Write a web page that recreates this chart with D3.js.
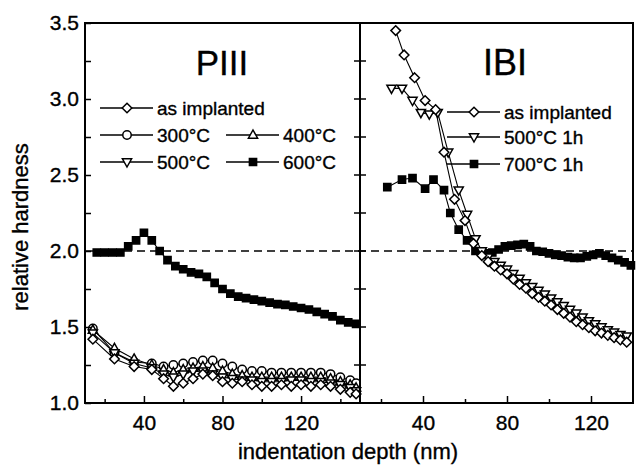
<!DOCTYPE html>
<meta charset="utf-8">
<style>
body { margin: 0; background: white; }
text { font-family: "Liberation Sans", Arial, sans-serif; fill: black; stroke: black; stroke-width: 0.35px; }
.frame { fill: none; stroke: black; stroke-width: 2px; }
.axis path { display: none; }
.axis line { stroke: black; stroke-width: 1.5px; }
.axis text { font-size: 21px; }
.series { fill: none; stroke: black; stroke-width: 1.1px; }
</style>
<body>
<script src="https://d3js.org/d3.v7.min.js"></script>
<script>

// PIII panel, low series share one set of depths (nm)
var piiiDepth = [14, 25, 35, 44, 50, 55, 60, 65, 70, 75, 80, 85, 90, 95, 100, 105, 110, 115, 120, 125, 130, 135, 140, 145, 148];
var piiiAsImpl = [1.42, 1.29, 1.24, 1.22, 1.16, 1.11, 1.13, 1.16, 1.19, 1.18, 1.14, 1.13, 1.14, 1.12, 1.11, 1.11, 1.12, 1.11, 1.12, 1.11, 1.12, 1.11, 1.09, 1.07, 1.06];
var piii300 = [1.49, 1.33, 1.27, 1.26, 1.24, 1.25, 1.26, 1.27, 1.28, 1.28, 1.26, 1.24, 1.22, 1.21, 1.21, 1.20, 1.20, 1.20, 1.20, 1.20, 1.20, 1.19, 1.17, 1.15, 1.13];
var piii400 = [1.48, 1.36, 1.29, 1.25, 1.22, 1.20, 1.22, 1.23, 1.24, 1.23, 1.21, 1.19, 1.18, 1.17, 1.17, 1.17, 1.17, 1.17, 1.17, 1.17, 1.17, 1.16, 1.14, 1.12, 1.10];
var piii500 = [1.46, 1.33, 1.26, 1.23, 1.19, 1.17, 1.19, 1.21, 1.21, 1.19, 1.17, 1.16, 1.15, 1.15, 1.14, 1.14, 1.14, 1.15, 1.15, 1.14, 1.14, 1.13, 1.12, 1.10, 1.08];
var piii600Depth = [16, 20, 24, 28, 32, 36, 40, 44, 48, 52, 56, 60, 64, 68, 72, 76, 80, 84, 88, 92, 96, 100, 104, 108, 112, 116, 120, 124, 128, 132, 136, 140, 144, 148];
var piii600 = [1.99, 1.99, 1.99, 1.99, 2.03, 2.07, 2.12, 2.07, 2.00, 1.94, 1.90, 1.88, 1.86, 1.85, 1.83, 1.79, 1.75, 1.72, 1.70, 1.69, 1.68, 1.67, 1.66, 1.65, 1.645, 1.635, 1.625, 1.615, 1.60, 1.585, 1.57, 1.545, 1.53, 1.52];

// IBI panel
var ibiAsImplDepth = [27, 31, 36, 41, 46, 50, 55, 60, 64, 68, 71, 74, 77, 80, 83, 86, 89, 92, 95, 98, 101, 104, 107, 110, 113, 116, 119, 122, 125, 128, 131, 134, 137];
var ibiAsImpl = [3.45, 3.29, 3.14, 2.99, 2.93, 2.65, 2.34, 2.20, 2.05, 1.97, 1.93, 1.90, 1.875, 1.85, 1.815, 1.78, 1.755, 1.72, 1.695, 1.67, 1.645, 1.615, 1.59, 1.565, 1.535, 1.515, 1.495, 1.475, 1.46, 1.445, 1.43, 1.415, 1.40];
var ibi500Depth = [25, 30, 35, 39, 43, 47, 52, 57, 61, 65, 68, 71, 74, 77, 80, 83, 86, 89, 92, 95, 98, 101, 104, 107, 110, 113, 116, 119, 122, 125, 128, 131, 134, 137];
var ibi500 = [3.07, 3.07, 2.99, 2.91, 2.90, 2.91, 2.65, 2.40, 2.24, 2.08, 2.00, 1.96, 1.93, 1.905, 1.88, 1.85, 1.82, 1.79, 1.765, 1.74, 1.715, 1.69, 1.665, 1.64, 1.615, 1.59, 1.565, 1.54, 1.52, 1.50, 1.48, 1.465, 1.45, 1.44];
var ibi700Depth = [23, 30, 35, 41, 45, 50, 53, 57, 61, 65, 70, 73, 76, 79, 82, 85, 88, 91, 94, 97, 100, 103, 106, 109, 112, 115, 118, 121, 124, 127, 130, 133, 136, 139];
var ibi700 = [2.42, 2.47, 2.48, 2.41, 2.47, 2.40, 2.25, 2.14, 2.07, 2.00, 1.985, 1.99, 2.01, 2.03, 2.035, 2.04, 2.045, 2.03, 2.00, 1.995, 1.985, 1.975, 1.97, 1.96, 1.955, 1.955, 1.965, 1.975, 1.985, 1.97, 1.955, 1.94, 1.925, 1.905];

var yTicks = [1.0, 1.5, 2.0, 2.5, 3.0, 3.5];
var yMinor = [1.25, 1.75, 2.25, 2.75, 3.25];
var xTicks = [40, 80, 120];
var xMinor = [20, 60, 100, 140];
var piiiLegend = ["as implanted", "300°C", "400°C", "500°C", "600°C"];
var ibiLegend = ["as implanted", "500°C 1h", "700°C 1h"];

var width = 637,
    height = 467;

var xL = d3.scaleLinear().domain([10, 150]).range([85, 360]);
var xR = d3.scaleLinear().domain([10, 140]).range([360, 633]);
var y = d3.scaleLinear().domain([1.0, 3.5]).range([403, 23]);

var svg = d3.select("body").append("svg")
    .attr("width", width)
    .attr("height", height);

// marker shapes
function marker(type) {
  if (type == "diamond") return "M0,-4.8L4.8,0L0,4.8L-4.8,0Z";
  if (type == "up") return "M0,-5L4.6,3.2L-4.6,3.2Z";
  if (type == "down") return "M0,5L4.6,-3.2L-4.6,-3.2Z";
  if (type == "square") return "M-3.6,-3.6H3.6V3.6H-3.6Z";
  return d3.symbol(d3.symbolCircle, 56)();
}

// dashed reference line at 2.0
svg.append("line")
    .attr("x1", 85).attr("x2", 633)
    .attr("y1", y(2.0)).attr("y2", y(2.0))
    .attr("stroke", "black")
    .attr("stroke-width", 1.6)
    .attr("stroke-dasharray", "8,5");

function drawSeries(x, depth, vals, type) {
  var pts = depth.map(function(d, i) { return [d, vals[i]]; });
  var line = d3.line().x(function(d) { return x(d[0]); }).y(function(d) { return y(d[1]); });
  svg.append("path").attr("class", "series").attr("d", line(pts));
  svg.append("g").selectAll("path")
      .data(pts)
      .enter().append("path")
      .attr("transform", function(d) { return "translate(" + x(d[0]) + "," + y(d[1]) + ")"; })
      .attr("d", marker(type))
      .attr("fill", type == "square" ? "black" : "white")
      .attr("stroke", "black")
      .attr("stroke-width", 1.5);
}

drawSeries(xL, piii600Depth, piii600, "square");
drawSeries(xL, piiiDepth, piii300, "circle");
drawSeries(xL, piiiDepth, piii400, "up");
drawSeries(xL, piiiDepth, piii500, "down");
drawSeries(xL, piiiDepth, piiiAsImpl, "diamond");

drawSeries(xR, ibi700Depth, ibi700, "square");
drawSeries(xR, ibi500Depth, ibi500, "down");
drawSeries(xR, ibiAsImplDepth, ibiAsImpl, "diamond");

// frame
svg.append("rect").attr("class", "frame")
    .attr("x", 85).attr("y", 23).attr("width", 548).attr("height", 380);
svg.append("line")
    .attr("x1", 360).attr("x2", 360).attr("y1", 23).attr("y2", 403)
    .attr("stroke", "black").attr("stroke-width", 2);

// axes
svg.append("g").attr("class", "axis")
    .attr("transform", "translate(0,403)")
    .call(d3.axisBottom(xL).tickValues(xTicks).tickSizeInner(-7).tickSizeOuter(0).tickPadding(12));
svg.append("g").attr("class", "axis")
    .attr("transform", "translate(0,403)")
    .call(d3.axisBottom(xL).tickValues(xMinor).tickSizeInner(-4).tickSizeOuter(0).tickFormat(""));
svg.append("g").attr("class", "axis")
    .attr("transform", "translate(0,403)")
    .call(d3.axisBottom(xR).tickValues(xTicks).tickSizeInner(-7).tickSizeOuter(0).tickPadding(12));
svg.append("g").attr("class", "axis")
    .attr("transform", "translate(0,403)")
    .call(d3.axisBottom(xR).tickValues(xMinor.slice(0, 3)).tickSizeInner(-4).tickSizeOuter(0).tickFormat(""));

svg.append("g").attr("class", "axis")
    .attr("transform", "translate(85,0)")
    .call(d3.axisLeft(y).tickValues(yTicks).tickSizeInner(-6).tickSizeOuter(0).tickPadding(6).tickFormat(d3.format(".1f")));
svg.append("g").attr("class", "axis")
    .attr("transform", "translate(85,0)")
    .call(d3.axisLeft(y).tickValues(yMinor).tickSizeInner(-6).tickSizeOuter(0).tickFormat(""));

// ticks crossing the divider
svg.append("g").selectAll("line")
    .data(yTicks.concat(yMinor))
    .enter().append("line")
    .attr("x1", 354).attr("x2", 366)
    .attr("y1", function(d) { return y(d); })
    .attr("y2", function(d) { return y(d); })
    .attr("stroke", "black").attr("stroke-width", 1.5);

// axis titles
svg.append("text")
    .attr("x", 348).attr("y", 459)
    .attr("text-anchor", "middle")
    .style("font-size", "22px")
    .text("indentation depth (nm)");
svg.append("text")
    .attr("transform", "translate(28,227) rotate(-90)")
    .attr("text-anchor", "middle")
    .style("font-size", "22px")
    .text("relative hardness");

// panel titles
svg.append("text").attr("x", 222).attr("y", 75)
    .attr("text-anchor", "middle").style("font-size", "35px").text("PIII");
svg.append("text").attr("x", 505).attr("y", 75)
    .attr("text-anchor", "middle").style("font-size", "36px").text("IBI");

// legends
function legendItem(x0, y0, type, label) {
  svg.append("line")
      .attr("x1", x0).attr("x2", x0 + 53).attr("y1", y0).attr("y2", y0)
      .attr("stroke", "black").attr("stroke-width", 1.3);
  svg.append("path")
      .attr("transform", "translate(" + (x0 + 27) + "," + y0 + ")")
      .attr("d", marker(type))
      .attr("fill", type == "square" ? "black" : "white")
      .attr("stroke", "black").attr("stroke-width", 1.5);
  svg.append("text")
      .attr("x", x0 + 57).attr("y", y0 + 7)
      .style("font-size", "19px")
      .text(label);
}

legendItem(100, 108, "diamond", piiiLegend[0]);
legendItem(100, 135, "circle", piiiLegend[1]);
legendItem(226, 135, "up", piiiLegend[2]);
legendItem(100, 162, "down", piiiLegend[3]);
legendItem(226, 162, "square", piiiLegend[4]);

legendItem(447, 112, "diamond", ibiLegend[0]);
legendItem(447, 137, "down", ibiLegend[1]);
legendItem(447, 164, "square", ibiLegend[2]);

</script>
</body>
</html>
